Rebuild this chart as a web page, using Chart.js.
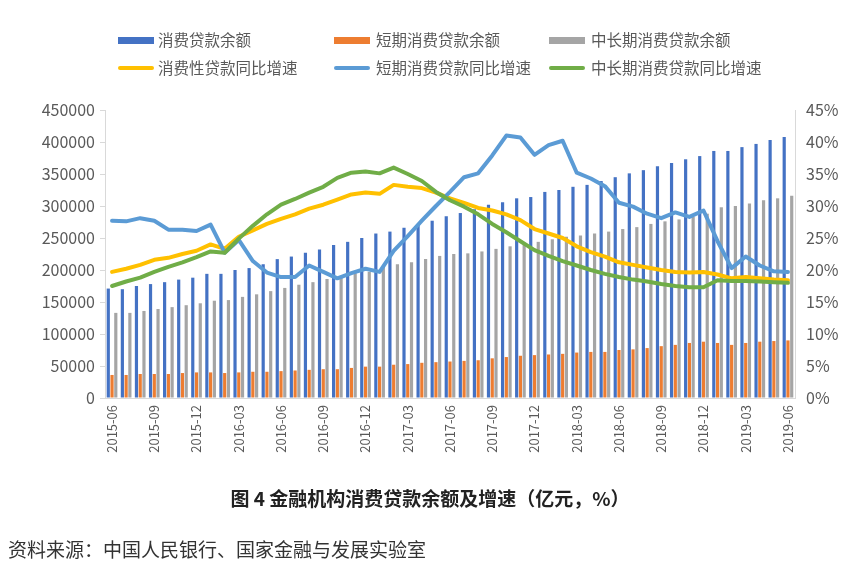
<!DOCTYPE html>
<html><head><meta charset="utf-8">
<script src="https://cdn.jsdelivr.net/npm/chart.js@4.4.1/dist/chart.umd.min.js"></script>
<style>
html,body{margin:0;padding:0;background:#fff;width:854px;height:567px;overflow:hidden;font-family:"Noto Sans CJK SC","Noto Sans",sans-serif;}
#wrap{position:absolute;left:0;top:0;width:854px;height:567px;}
.lg{position:absolute;font-size:15.5px;color:#595959;line-height:20px;white-space:nowrap;z-index:2;}
.sw{position:absolute;z-index:2;}
#title{position:absolute;left:0;width:860px;text-align:center;top:484px;font-size:19px;font-weight:bold;color:#222;z-index:2;}
#src{position:absolute;left:8px;top:535px;font-size:19px;color:#333;z-index:2;}
</style></head>
<body>
<div id="wrap"><canvas id="c" width="854" height="567"></canvas></div>
<div id="legend"></div>
<div id="title">图 4 金融机构消费贷款余额及增速（亿元，%）</div>
<div id="src">资料来源：中国人民银行、国家金融与发展实验室</div>
<script>
const months = ['2015-06','2015-07','2015-08','2015-09','2015-10','2015-11','2015-12',
'2016-01','2016-02','2016-03','2016-04','2016-05','2016-06','2016-07','2016-08','2016-09','2016-10','2016-11','2016-12',
'2017-01','2017-02','2017-03','2017-04','2017-05','2017-06','2017-07','2017-08','2017-09','2017-10','2017-11','2017-12',
'2018-01','2018-02','2018-03','2018-04','2018-05','2018-06','2018-07','2018-08','2018-09','2018-10','2018-11','2018-12',
'2019-01','2019-02','2019-03','2019-04','2019-05','2019-06'];

const totalLoans = [171000,170000,175000,178000,181000,185000,188000,194000,194000,200000,203000,209000,217000,221000,227000,232000,239000,244000,250000,257000,260000,266000,270000,277000,284000,289000,295000,302000,306000,312000,314000,322000,325000,330000,333000,339000,345000,351000,356000,362000,367000,373000,378000,386000,386000,392000,397000,403000,408000];
const shortLoans = [36000,36000,37500,37500,37500,39000,40000,40000,39000,40000,41000,41000,42000,43000,44000,45000,45000,47000,49000,49000,52000,53000,55000,56000,57000,58000,59000,62000,64000,66000,67000,68000,69000,71000,72000,72000,75000,76000,78000,81000,83000,86000,88000,86000,83000,86000,88000,89000,90000];
const longLoans = [133000,133000,136000,139000,142000,145000,148000,152000,153000,158000,162000,167000,172000,177000,181000,186000,189000,195000,197000,205000,209000,212000,217000,222000,225000,226000,229000,233000,237000,240000,244000,248000,252000,254000,257000,260000,264000,267000,272000,276000,279000,283000,288000,298000,300000,304000,309000,312000,316000];
const totalGrowth = [19.7,20.2,20.8,21.6,21.9,22.5,23.0,24.0,23.3,25.2,26.2,27.2,28.0,28.7,29.6,30.2,31.0,31.8,32.1,31.9,33.3,33.0,32.8,32.1,31.2,30.5,29.7,29.3,28.7,27.8,26.4,25.7,25.0,23.7,22.8,22.1,21.2,20.8,20.4,20.0,19.7,19.6,19.7,19.3,18.7,18.9,18.7,18.5,18.4];
const shortGrowth = [27.7,27.6,28.1,27.7,26.3,26.3,26.1,27.1,22.7,24.7,21.4,19.6,18.9,18.9,20.7,19.7,18.7,19.5,20.2,19.7,23.0,25.3,27.7,30.0,32.2,34.5,35.1,37.9,41.0,40.7,38.0,39.5,40.2,35.2,34.3,33.1,30.5,29.9,28.8,28.1,29.0,28.3,29.3,24.5,20.3,22.1,20.7,19.8,19.7];
const longGrowth = [17.5,18.2,18.8,19.7,20.5,21.2,22.0,22.9,22.7,24.9,26.9,28.7,30.2,31.1,32.1,33.0,34.4,35.2,35.4,35.1,36.0,35.0,33.9,32.2,30.9,29.9,28.7,27.2,25.9,24.5,23.1,22.2,21.4,20.7,20.0,19.4,18.9,18.5,18.2,17.8,17.5,17.3,17.3,18.4,18.3,18.3,18.2,18.1,18.0];

const seriesNames = ['消费贷款余额','短期消费贷款余额','中长期消费贷款余额','消费性贷款同比增速','短期消费贷款同比增速','中长期消费贷款同比增速'];

const C = {blue:'#4472C4', orange:'#ED7D31', gray:'#A5A5A5', yellow:'#FFC000', lblue:'#5B9BD5', green:'#70AD47'};
const FAM = '"Noto Sans CJK SC","Noto Sans",sans-serif';

// HTML legend
const legendSpec = [
  {name:seriesNames[0], color:C.blue, kind:'bar', sx:118, tx:158, y:40},
  {name:seriesNames[1], color:C.orange, kind:'bar', sx:334, tx:376, y:40},
  {name:seriesNames[2], color:C.gray, kind:'bar', sx:549, tx:591, y:40},
  {name:seriesNames[3], color:C.yellow, kind:'line', sx:118, tx:158, y:68},
  {name:seriesNames[4], color:C.lblue, kind:'line', sx:334, tx:376, y:68},
  {name:seriesNames[5], color:C.green, kind:'line', sx:549, tx:591, y:68}
];
const lg = document.getElementById('legend');
legendSpec.forEach(s=>{
  const sw = document.createElement('div');
  sw.className='sw';
  const h = s.kind==='bar'?7:4;
  sw.style.cssText += `left:${s.sx}px;top:${s.y-h/2}px;width:36px;height:${h}px;background:${s.color};border-radius:${s.kind==='bar'?0:2}px;`;
  lg.appendChild(sw);
  const t = document.createElement('div');
  t.className='lg';
  t.style.left = s.tx+'px';
  t.style.top = (s.y-11)+'px';
  t.textContent = s.name;
  lg.appendChild(t);
});

const barCommon = {type:'bar', yAxisID:'y', order:10, categoryPercentage:0.8, barPercentage:0.85};
const lineCommon = {type:'line', yAxisID:'y1', pointRadius:0, borderWidth:4, tension:0, fill:false, borderJoinStyle:'round', borderCapStyle:'round'};

new Chart(document.getElementById('c'), {
  data: {
    labels: months,
    datasets: [
      Object.assign({}, barCommon, {label:seriesNames[0], data:totalLoans, backgroundColor:C.blue}),
      Object.assign({}, barCommon, {label:seriesNames[1], data:shortLoans, backgroundColor:C.orange}),
      Object.assign({}, barCommon, {label:seriesNames[2], data:longLoans, backgroundColor:C.gray}),
      Object.assign({}, lineCommon, {label:seriesNames[3], data:totalGrowth, borderColor:C.yellow, order:3}),
      Object.assign({}, lineCommon, {label:seriesNames[4], data:shortGrowth, borderColor:C.lblue, order:2}),
      Object.assign({}, lineCommon, {label:seriesNames[5], data:longGrowth, borderColor:C.green, order:1})
    ]
  },
  options: {
    responsive:false, animation:false, devicePixelRatio:1,
    layout:{padding:{top:110,left:0,right:0,bottom:0}},
    plugins:{legend:{display:false}, tooltip:{enabled:false}, title:{display:false}},
    scales:{
      x:{
        type:'category', offset:true,
        grid:{display:true, drawOnChartArea:false, drawTicks:true, tickLength:4, color:'rgba(0,0,0,0)'},
        border:{display:true, color:'#d9d9d9', width:1},
        ticks:{autoSkip:false, maxRotation:90, minRotation:90, padding:3, color:'#595959', font:{size:13, family:FAM},
          callback:function(v,i){ return i%3===0 ? this.getLabelForValue(v) : ''; }},
        afterFit:(s)=>{ s.height = 169; }
      },
      y:{
        position:'left', min:0, max:450000,
        grid:{display:true, drawOnChartArea:false, drawTicks:true, tickLength:5, color:'#d9d9d9'},
        border:{display:true, color:'#d9d9d9', width:1},
        ticks:{stepSize:50000, padding:5, color:'#595959', font:{size:16, family:FAM}, callback:(v)=>String(v)},
        afterFit:(s)=>{ s.width = 105; }
      },
      y1:{
        position:'right', min:0, max:45,
        grid:{display:true, drawOnChartArea:false, drawTicks:true, tickLength:6, color:'rgba(0,0,0,0)'},
        border:{display:true, color:'#d9d9d9', width:1},
        ticks:{stepSize:5, padding:5, color:'#595959', font:{size:16, family:FAM}, callback:(v)=>v+'%'},
        afterFit:(s)=>{ s.width = 59; }
      }
    }
  }
});
</script>
</body></html>
